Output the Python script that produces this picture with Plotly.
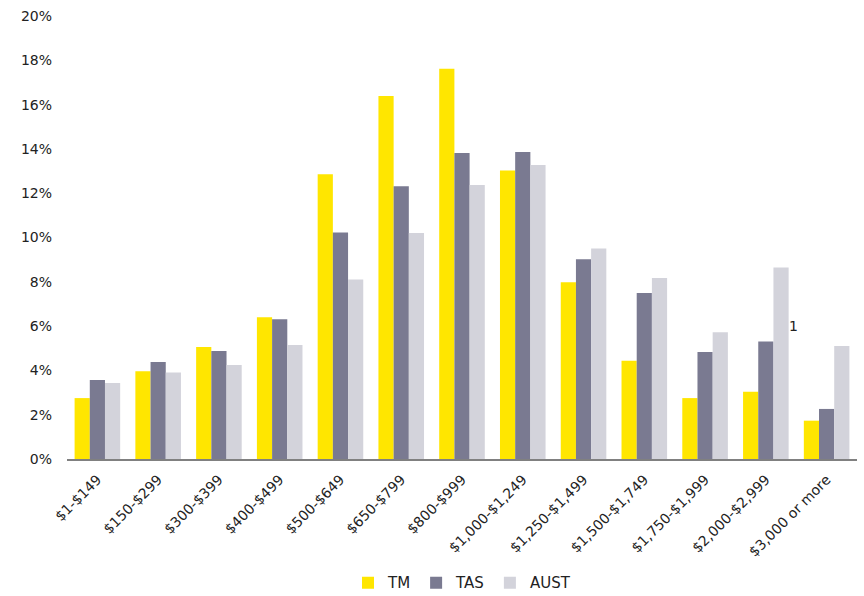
import plotly.graph_objects as go

# Weekly household income bands
categories = ["$1-$149", "$150-$299", "$300-$399", "$400-$499", "$500-$649",
              "$650-$799", "$800-$999", "$1,000-$1,249", "$1,250-$1,499",
              "$1,500-$1,749", "$1,750-$1,999", "$2,000-$2,999", "$3,000 or more"]

# Share of households in each band (%)
tm = [2.75, 3.96, 5.06, 6.40, 12.85, 16.39, 17.62, 13.02, 7.98, 4.44, 2.75, 3.04, 1.73]
tas = [3.57, 4.38, 4.88, 6.31, 10.23, 12.31, 13.81, 13.86, 9.02, 7.49, 4.83, 5.31, 2.26]
aust = [3.43, 3.91, 4.24, 5.15, 8.10, 10.20, 12.37, 13.27, 9.50, 8.17, 5.72, 8.65, 5.10]

y_ticks = [0, 2, 4, 6, 8, 10, 12, 14, 16, 18, 20]
y_tick_labels = [f"{v}%" for v in y_ticks]

series = [("TM", tm, "#FFE600"), ("TAS", tas, "#7A7A91"), ("AUST", aust, "#D3D3DB")]

fig = go.Figure()
for name, vals, color in series:
    fig.add_trace(go.Bar(name=name, x=categories, y=vals, marker_color=color,
                         marker_line_width=0))

# Stray footnote marker beside the $2,000-$2,999 band
fig.add_annotation(x=categories[11], y=6.0, text="1", showarrow=False,
                   xshift=28, font=dict(size=14, color="#222222"))

fig.update_layout(
    width=864, height=596,
    margin=dict(l=67, r=7, t=16, b=137, autoexpand=False),
    paper_bgcolor="white", plot_bgcolor="white",
    barmode="group", bargap=0.25, bargroupgap=0,
    font=dict(family="DejaVu Sans, sans-serif", size=13, color="#222222"),
    showlegend=True,
    legend=dict(orientation="h", x=0.5, xanchor="center",
                yref="container", y=0.022, yanchor="middle",
                font=dict(size=15), itemwidth=30, traceorder="normal"),
)
fig.update_xaxes(showline=True, linecolor="#808080", linewidth=2, showgrid=False,
                 tickangle=-45, ticks="", tickfont=dict(size=14), automargin=False,
                 ticklabelstandoff=5)
fig.update_yaxes(range=[0, 20], tickvals=y_ticks, ticktext=y_tick_labels,
                 showgrid=False, zeroline=False, showline=False, automargin=False,
                 ticklabelstandoff=14, tickfont=dict(size=14))

fig.write_html("out.html")
